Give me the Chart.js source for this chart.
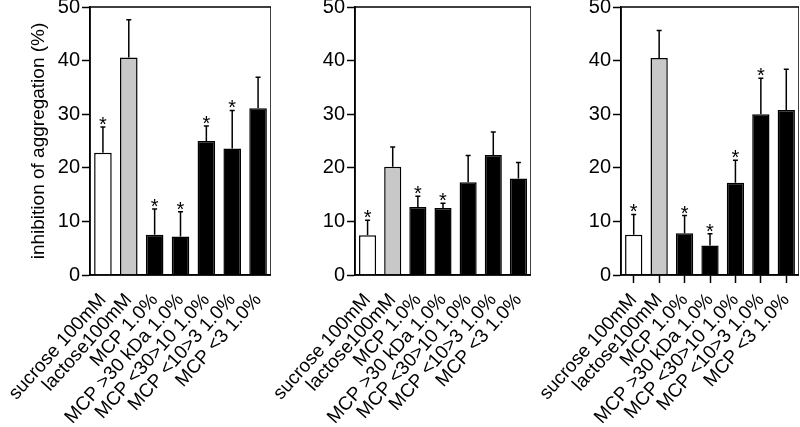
<!DOCTYPE html>
<html>
<head>
<meta charset="utf-8">
<script src="https://cdn.jsdelivr.net/npm/chart.js@4/dist/chart.umd.min.js"></script>
<style>
body { margin: 0; background: #fff; width: 800px; height: 427px; position: relative; overflow: hidden; }
.panel { position: absolute; top: 0; height: 427px; }
</style>
</head>
<body>
<div class="panel" style="left:0px;width:271px"><canvas id="c1"></canvas></div>
<div class="panel" style="left:250px;width:281px"><canvas id="c2"></canvas></div>
<div class="panel" style="left:515px;width:284px"><canvas id="c3"></canvas></div>
<script>
// 共通のカテゴリ
var categories = ['sucrose 100mM', 'lactose100mM', 'MCP 1.0%', 'MCP >30 kDa 1.0%',
	'MCP <30>10 1.0%', 'MCP <10>3 1.0%', 'MCP <3 1.0%'];
var barColors = ['#ffffff', '#c8c8c8', '#000000', '#000000', '#000000', '#000000', '#000000'];
var yTicks = [0, 10, 20, 30, 40, 50];

// パネル1
var mean1 = [22.8, 40.6, 7.5, 7.2, 25.0, 23.6, 31.1];
var err1 = [4.8, 7.0, 4.8, 4.6, 2.8, 7.1, 5.8];
var star1 = [true, false, true, true, true, true, false];
// パネル2
var mean2 = [7.4, 20.2, 12.7, 12.5, 17.3, 22.4, 18.0];
var err2 = [2.8, 3.7, 2.0, 0.9, 5.0, 4.3, 3.0];
var star2 = [true, false, true, true, false, false, false];
// パネル3
var mean3 = [7.5, 40.5, 7.8, 5.5, 17.2, 30.0, 30.8];
var err3 = [3.8, 5.1, 3.3, 2.2, 4.2, 6.7, 7.6];
var star3 = [true, false, true, true, true, true, false];

var FONT = 'Liberation Sans, Arial, sans-serif';

/* エラーバーとアスタリスク */
var errorPlugin = {
	id: 'errorbars',
	afterDatasetsDraw: function(chart, args, opts) {
		var ctx = chart.ctx;
		var xs = chart.scales.x, ys = chart.scales.y;
		var ds = chart.data.datasets[0];
		ctx.save();
		ctx.strokeStyle = '#000';
		ctx.lineWidth = 1.5;
		ctx.fillStyle = '#000';
		ctx.font = '20px ' + FONT;
		ctx.textAlign = 'center';
		ctx.textBaseline = 'alphabetic';
		for (var i = 0; i < ds.data.length; i++) {
			var x = xs.getPixelForValue(i);
			var y0 = ys.getPixelForValue(ds.data[i]);
			var y1 = ys.getPixelForValue(ds.data[i] + opts.err[i]);
			ctx.beginPath();
			ctx.moveTo(x, y0);
			ctx.lineTo(x, y1);
			ctx.moveTo(x - 2.5, y1);
			ctx.lineTo(x + 2.5, y1);
			ctx.stroke();
			if (opts.star[i]) {
				ctx.fillText('*', x, y1 + 4);
			}
		}
		ctx.restore();
	},
	afterDraw: function(chart) {
		var a = chart.chartArea;
		var ctx = chart.ctx;
		ctx.save();
		ctx.strokeStyle = '#000';
		ctx.lineWidth = 1.5;
		ctx.strokeRect(a.left, a.top, a.right - a.left, a.bottom - a.top);
		ctx.restore();
	}
};

function makePanel(id, mean, err, star, yWidth, showTitle, showXTicks) {
	var ctx = document.getElementById(id);
	return new Chart(ctx, {
		type: 'bar',
		data: {
			labels: categories,
			datasets: [{
				data: mean,
				backgroundColor: barColors,
				borderColor: '#000',
				borderWidth: 1.5,
				categoryPercentage: 1.0,
				barPercentage: 0.68
			}]
		},
		options: {
			responsive: true,
			maintainAspectRatio: false,
			animation: false,
			layout: { padding: { top: 7, left: 0, right: 0, bottom: 0 } },
			plugins: {
				legend: { display: false },
				tooltip: { enabled: false },
				errorbars: { err: err, star: star }
			},
			scales: {
				x: {
					grid: {
						display: true,
						offset: false,
						drawOnChartArea: false,
						tickLength: 8,
						tickColor: showXTicks ? '#000' : 'rgba(0,0,0,0)',
						tickWidth: 1.5
					},
					border: { color: '#000', width: 1.5 },
					ticks: {
						autoSkip: false,
						minRotation: 48,
						maxRotation: 48,
						padding: 6,
						color: '#000',
						font: { family: FONT, size: 19 }
					},
					afterFit: function(s) {
						s.height = 152;
						s.paddingLeft = 0;
						s.paddingRight = 0;
					}
				},
				y: {
					min: 0,
					max: 50,
					afterBuildTicks: function(s) {
						s.ticks = yTicks.map(function(v) { return { value: v }; });
					},
					grid: {
						drawOnChartArea: false,
						tickLength: 8,
						tickColor: '#000',
						tickWidth: 1.5
					},
					border: { color: '#000', width: 1.5 },
					ticks: {
						padding: 2,
						color: '#000',
						font: { family: FONT, size: 20 }
					},
					title: {
						display: showTitle,
						text: 'inhibition of aggregation (%)',
						color: '#000',
						font: { family: FONT, size: 19 },
						padding: { top: 27, bottom: 0 }
					},
					afterFit: function(s) {
						s.width = yWidth;
						s.paddingTop = 0;
						s.paddingBottom = 0;
					}
				}
			}
		},
		plugins: [errorPlugin]
	});
}

makePanel('c1', mean1, err1, star1, 90, true, false);
makePanel('c2', mean2, err2, star2, 105, false, false);
makePanel('c3', mean3, err3, star3, 106, false, true);
</script>
</body>
</html>
